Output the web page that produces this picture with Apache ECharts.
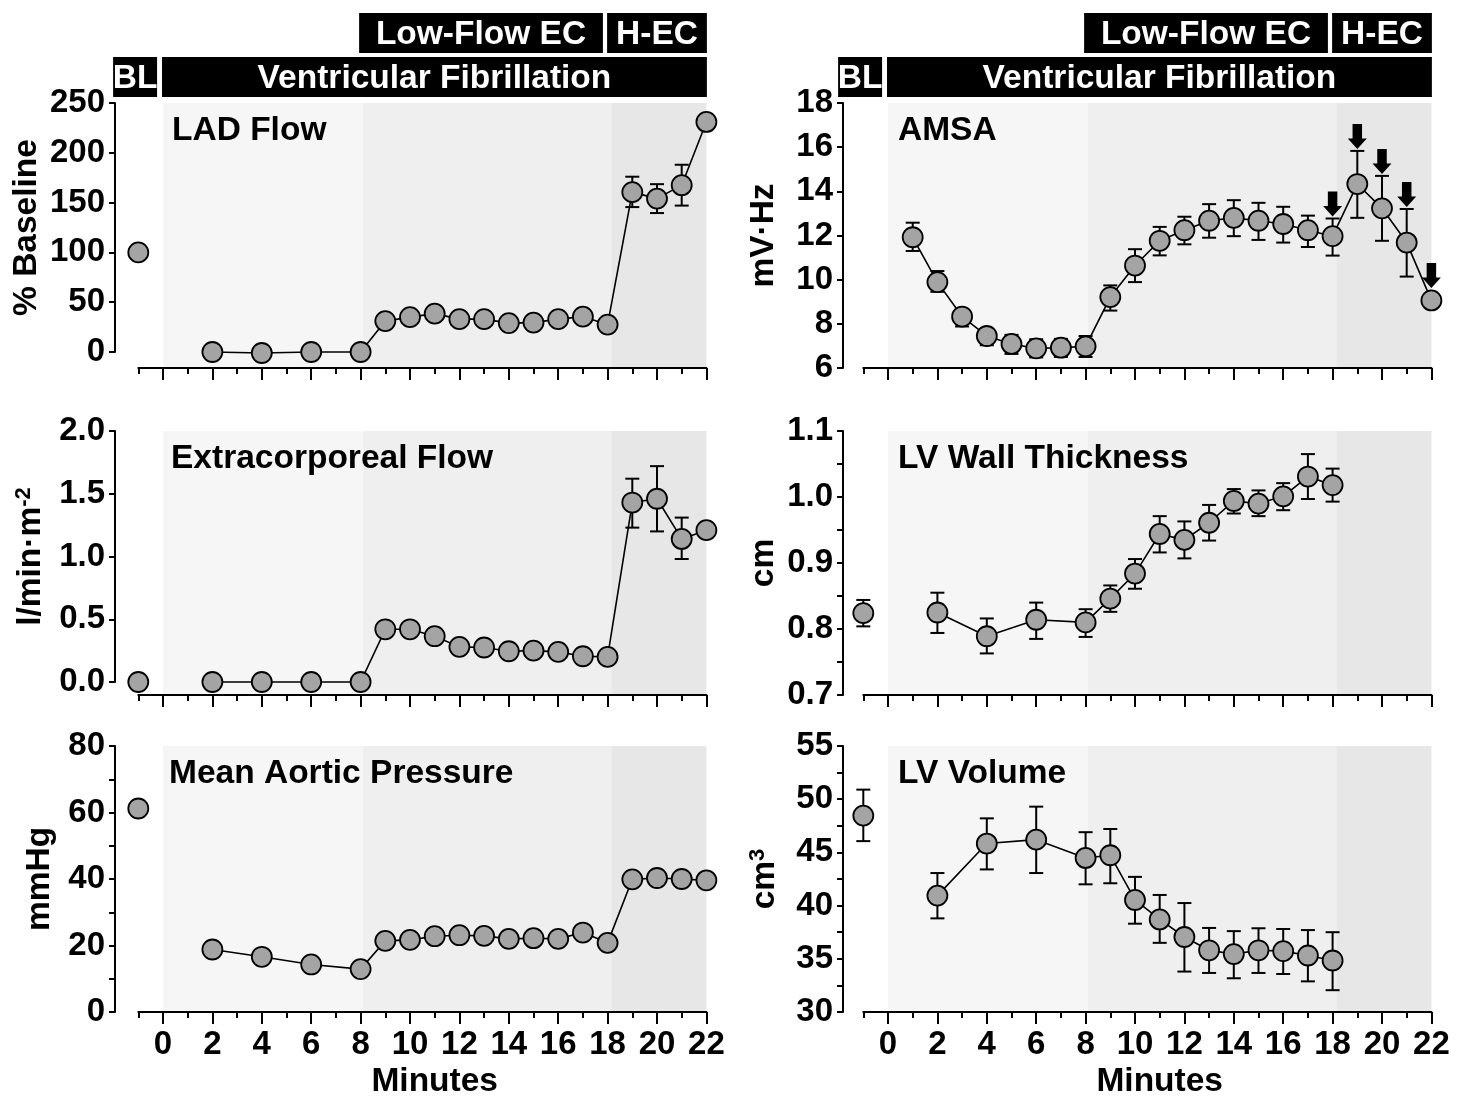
<!DOCTYPE html>
<html><head><meta charset="utf-8">
<script src="https://cdn.jsdelivr.net/npm/echarts@6/dist/echarts.min.js"></script>
<style>html,body{margin:0;padding:0;background:#fff}#c{width:1468px;height:1098px}</style>
</head><body><div id="c"></div>
<script>
// ---------------- DATA ----------------
const blMinute = -1;
const minutesMain = [2,4,6,8,9,10,11,12,13,14,15,16,17,18,19,20,21,22];
const minutesAMSA = [1,2,3,4,5,6,7,8,9,10,11,12,13,14,15,16,17,18,19,20,21,22];
const minutesLV = [2,4,6,8,9,10,11,12,13,14,15,16,17,18];

// LAD Flow (% baseline)
const ladBL = 100;
const ladFlow   = [0,-1,0,0,31,35,38.5,33,33,29,29.5,33,35.5,27.5,160.5,154,167.5,231];
const ladErrLow = [null,null,null,null,null,null,null,null,null,null,null,null,null,null,145.5,139.5,147,null];
const ladErrHigh= [null,null,null,null,null,null,null,null,null,null,null,null,null,null,176,168.5,188,null];

// AMSA (mV·Hz)
const amsa       = [11.92,9.89,8.33,7.45,7.09,6.89,6.92,6.98,9.21,10.64,11.76,12.24,12.67,12.8,12.67,12.52,12.24,11.97,14.33,13.23,11.68,9.06];
const amsaErrLow = [11.3,9.45,7.88,7.03,6.64,6.48,6.5,6.5,8.6,9.89,11.1,11.6,11.9,11.97,11.8,11.68,11.48,11.09,12.8,11.76,10.14,null];
const amsaErrHigh= [12.58,10.39,8.64,7.77,7.5,7.3,7.32,7.45,9.74,11.38,12.39,12.85,13.42,13.6,13.48,13.3,12.9,12.77,15.83,14.7,13.2,null];
const amsaArrowMinutes = [18,19,20,21,22];

// Extracorporeal flow (l/min·m-2)
const ecfBL = 0;
const ecf       = [0,0,0,0,0.42,0.42,0.365,0.28,0.275,0.245,0.25,0.24,0.205,0.2,1.43,1.46,1.14,1.21];
const ecfErrLow = [null,null,null,null,null,null,null,null,null,null,null,null,null,null,1.23,1.2,0.98,1.15];
const ecfErrHigh= [null,null,null,null,null,null,null,null,null,null,null,null,null,null,1.62,1.72,1.31,1.25];

// LV wall thickness (cm)
const lvwtBL = 0.824, lvwtBLErrLow = 0.804, lvwtBLErrHigh = 0.844;
const lvwt       = [0.825,0.789,0.814,0.810,0.846,0.884,0.944,0.935,0.961,0.994,0.990,1.001,1.031,1.018];
const lvwtErrLow = [0.794,0.763,0.785,0.788,0.826,0.861,0.916,0.907,0.934,0.975,0.971,0.980,0.997,0.993];
const lvwtErrHigh= [0.855,0.816,0.840,0.830,0.866,0.906,0.971,0.963,0.988,1.012,1.010,1.021,1.065,1.043];

// Mean aortic pressure (mmHg)
const mapBL = 61.2;
const mapVals = [18.8,16.6,14.3,12.9,21.4,21.7,22.8,23.1,22.9,22.0,22.2,22.0,23.9,20.8,39.9,40.3,40.0,39.6];

// LV volume (cm3)
const lvvBL = 48.46, lvvBLErrLow = 46.06, lvvBLErrHigh = 50.9;
const lvv       = [40.94,45.83,46.2,44.48,44.73,40.53,38.7,37.05,35.8,35.44,35.8,35.72,35.31,34.84];
const lvvErrLow = [38.8,43.4,43.06,42.0,42.1,38.3,36.5,33.8,33.67,33.17,33.67,33.57,32.88,32.05];
const lvvErrHigh= [43.06,48.2,49.3,46.9,47.2,42.7,41.0,40.24,37.9,37.6,37.87,37.8,37.7,37.5];

// Phases
const phaseBounds = [0, 8.1, 18.15, 22];
const headerLabels = ['BL','Ventricular Fibrillation','Low-Flow EC','H-EC'];
const headerStart  = [-2.02, -0.04, 7.94, 17.98];
const headerEnd    = [-0.24, 22.02, 17.81, 22.02];
const headerRow    = [0, 0, 1, 1];

// ---------------- LAYOUT / STYLE ----------------
const FONT = '"Liberation Sans", Arial, Helvetica, sans-serif';
const FS = 33.5;
const UNIT = 24.7;
const COLS = [{x0:163, yAxisX:115}, {x0:888, yAxisX:843}];
const ROWS = [{top:103, bottom:368}, {top:431, bottom:695}, {top:746, bottom:1012}];
const shadeColors = ['#f6f6f6','#efefef','#e7e7e7'];
const BLK = '#000';
const lineSt = {color:BLK, width:2};
const txt = {fontSize:FS, fontWeight:'bold', color:BLK, fontFamily:FONT};
const tickTxt = {fontSize:33, fontWeight:'bold', color:BLK, fontFamily:FONT};

const grids=[], xAxes=[], yAxes=[], series=[], titles=[];
function addGrid(g){ grids.push(Object.assign({outerBoundsMode:'none', containLabel:false, show:false}, g)); return grids.length-1; }

function errRender(params, api){
  const x = api.value(0), lo = api.value(1), hi = api.value(2);
  const p1 = api.coord([x, lo]), p2 = api.coord([x, hi]);
  const hw = 7, st = {stroke:BLK, lineWidth:2, fill:null};
  return {type:'group', children:[
    {type:'line', shape:{x1:p1[0],y1:p1[1],x2:p2[0],y2:p2[1]}, style:st},
    {type:'line', shape:{x1:p1[0]-hw,y1:p1[1],x2:p1[0]+hw,y2:p1[1]}, style:st},
    {type:'line', shape:{x1:p2[0]-hw,y1:p2[1],x2:p2[0]+hw,y2:p2[1]}, style:st}
  ]};
}
function shadeRender(params, api){
  const a = api.coord([api.value(0), 0]), b = api.coord([api.value(1), 0]);
  const cs = params.coordSys;
  return {type:'rect', shape:{x:a[0], y:cs.y, width:b[0]-a[0], height:cs.height},
          style:{fill:shadeColors[params.dataIndex]}};
}
function headerRender(params, api){
  const x0 = api.value(0), x1 = api.value(1), row = api.value(2);
  const yb = row === 0 ? 0 : 1.048, yt = row === 0 ? 0.952 : 2;
  const p0 = api.coord([x0, yt]), p1 = api.coord([x1, yb]);
  return {type:'group', children:[
    {type:'rect', shape:{x:p0[0], y:p0[1], width:p1[0]-p0[0], height:p1[1]-p0[1]}, style:{fill:BLK}},
    {type:'text', style:{text:headerLabels[params.dataIndex], x:(p0[0]+p1[0])/2, y:(p0[1]+p1[1])/2 + 2,
      fill:'#fff', font:'bold ' + FS + 'px ' + FONT, align:'center', verticalAlign:'middle'}}
  ]};
}

function panel(p){
  const col = COLS[p.col], row = ROWS[p.row];
  const pxPerUnit = (p.axisBottomPx - row.top) / (p.yMax - p.yMin);
  const dataMin = p.yMin - (row.bottom - p.axisBottomPx) / pxPerUnit;
  // data grid
  const gi = addGrid({left: col.x0 - UNIT, top: row.top, width: 23*UNIT, height: row.bottom - row.top});
  const xi = xAxes.push({gridIndex:gi, type:'value', min:-1, max:22, interval:1, position:'bottom',
    axisLine:{show:true, onZero:false, lineStyle:lineSt}, axisTick:{show:true, length:6, lineStyle:lineSt},
    axisLabel:{show:false}, splitLine:{show:false}}) - 1;
  const yi = yAxes.push({gridIndex:gi, type:'value', min:dataMin, max:p.yMax, show:false, splitLine:{show:false}}) - 1;
  // y axis grid
  const gy = addGrid({left: col.yAxisX, top: row.top, width: 20, height: p.axisBottomPx - row.top});
  xAxes.push({gridIndex:gy, type:'value', show:false, min:0, max:1});
  yAxes.push({gridIndex:gy, type:'value', min:p.yMin, max:p.yMax, interval:p.interval, position:'left',
    axisLine:{show:true, onZero:false, lineStyle:lineSt},
    axisTick:{show:true, length:6, lineStyle:lineSt},
    minorTick:{show:!!p.minor, splitNumber:2, length:6, lineStyle:lineSt},
    axisLabel:Object.assign({margin:10, formatter:v => v.toFixed(p.decimals)}, tickTxt),
    splitLine:{show:false}, minorSplitLine:{show:false},
    name:p.name, nameLocation:'middle', nameRotate:90, nameGap:p.nameGap,
    nameTextStyle:Object.assign({rich:{
      a:{fontSize:FS, fontWeight:'bold', fontFamily:FONT, color:BLK, lineHeight:36},
      s:{fontSize:22, fontWeight:'bold', fontFamily:FONT, color:BLK, lineHeight:19, verticalAlign:'top'}}}, txt)});
  // long ticks + labels grid
  const gt = addGrid({left: col.x0, top: row.top, width: 22*UNIT, height: row.bottom - row.top});
  xAxes.push({gridIndex:gt, type:'value', min:0, max:22, interval:2, position:'bottom',
    axisLine:{show:false}, axisTick:{show:true, length:12, lineStyle:lineSt},
    axisLabel:Object.assign({show:p.row === 2, margin:16}, tickTxt), splitLine:{show:false},
    name:p.row === 2 ? 'Minutes' : '', nameLocation:'middle', nameGap:53, nameTextStyle:txt});
  yAxes.push({gridIndex:gt, type:'value', show:false, min:0, max:1});

  const base = {xAxisIndex:xi, yAxisIndex:yi, silent:true, animation:false};
  series.push(Object.assign({type:'custom', renderItem:shadeRender, z:0, clip:false,
    data: shadeColors.map((c,i) => [phaseBounds[i], phaseBounds[i+1]]), encode:{x:[0,1]}}, base));
  const errData = [];
  if (p.blErr) errData.push([blMinute, p.blErr[0], p.blErr[1]]);
  p.minutes.forEach((m,i) => { if (p.lo && p.lo[i] != null) errData.push([m, p.lo[i], p.hi[i]]); });
  if (errData.length) series.push(Object.assign({type:'custom', renderItem:errRender, z:2, clip:false,
    data:errData, encode:{x:0, y:[1,2]}}, base));
  const sym = {symbol:'circle', symbolSize:20, itemStyle:{color:'#a4a4a4', borderColor:BLK, borderWidth:1.8, opacity:1}};
  series.push(Object.assign({type:'line', z:3, clip:false, showAllSymbol:true,
    lineStyle:{color:BLK, width:1.6}, data:p.minutes.map((m,i) => [m, p.vals[i]])}, sym, base));
  if (p.bl != null) series.push(Object.assign({type:'scatter', z:3, clip:false,
    data:[[blMinute, p.bl]]}, sym, base));
  if (p.arrows){
    series.push(Object.assign({type:'scatter', z:4, clip:false,
      symbol:'path://M4.5,0L13.5,0L13.5,14L18,14L9,24L0,14L4.5,14Z', symbolSize:[19,25], symbolKeepAspect:false,
      itemStyle:{color:BLK, opacity:1},
      data:p.arrows.map(m => { const i = p.minutes.indexOf(m); const hasErr = p.hi[i] != null;
        return {value:[m, hasErr ? p.hi[i] : p.vals[i]], symbolOffset:[0, hasErr ? -14.5 : -25]}; })}, base));
  }
  titles.push({text:p.title, left:col.x0 + p.titleDx, top:p.titleTop, padding:0, textStyle:txt});
}

panel({col:0,row:0, title:'LAD Flow', titleDx:9, titleTop:114, yMin:0, yMax:250, axisBottomPx:352, interval:50,
  decimals:0, name:'% Baseline', nameGap:71, minutes:minutesMain, vals:ladFlow, lo:ladErrLow, hi:ladErrHigh, bl:ladBL});
panel({col:1,row:0, title:'AMSA', titleDx:10, titleTop:114, yMin:6, yMax:18, axisBottomPx:368, interval:2,
  decimals:0, name:'mV·Hz', nameGap:62, minutes:minutesAMSA, vals:amsa, lo:amsaErrLow, hi:amsaErrHigh, arrows:amsaArrowMinutes});
panel({col:0,row:1, title:'Extracorporeal Flow', titleDx:8, titleTop:442, yMin:0, yMax:2, axisBottomPx:682, interval:0.5,
  decimals:1, name:'{a|l/min·m}{s|-2}', nameGap:66, minutes:minutesMain, vals:ecf, lo:ecfErrLow, hi:ecfErrHigh, bl:ecfBL});
panel({col:1,row:1, title:'LV Wall Thickness', titleDx:10, titleTop:442, yMin:0.7, yMax:1.1, axisBottomPx:695, interval:0.1,
  minor:true, decimals:1, name:'cm', nameGap:62, minutes:minutesLV, vals:lvwt, lo:lvwtErrLow, hi:lvwtErrHigh,
  bl:lvwtBL, blErr:[lvwtBLErrLow, lvwtBLErrHigh]});
panel({col:0,row:2, title:'Mean Aortic Pressure', titleDx:6, titleTop:757, yMin:0, yMax:80, axisBottomPx:1012, interval:20,
  minor:true, decimals:0, name:'mmHg', nameGap:58, minutes:minutesMain, vals:mapVals, bl:mapBL});
panel({col:1,row:2, title:'LV Volume', titleDx:10, titleTop:757, yMin:30, yMax:55, axisBottomPx:1012, interval:5,
  minor:true, decimals:0, name:'{a|cm}{s|3}', nameGap:60, minutes:minutesLV, vals:lvv, lo:lvvErrLow, hi:lvvErrHigh,
  bl:lvvBL, blErr:[lvvBLErrLow, lvvBLErrHigh]});

// header bars
COLS.forEach(col => {
  const gh = addGrid({left: col.x0 - 2.05*UNIT, top:13, width: 24.1*UNIT, height:84});
  const xh = xAxes.push({gridIndex:gh, type:'value', show:false, min:-2.05, max:22.05}) - 1;
  const yh = yAxes.push({gridIndex:gh, type:'value', show:false, min:0, max:2}) - 1;
  series.push({type:'custom', xAxisIndex:xh, yAxisIndex:yh, silent:true, animation:false, clip:false,
    renderItem:headerRender, encode:{x:[0,1]},
    data: headerLabels.map((l,i) => [headerStart[i], headerEnd[i], headerRow[i]])});
});

const chart = echarts.init(document.getElementById('c'), null, {renderer:'canvas'});
chart.setOption({backgroundColor:'#fff', animation:false, title:titles, grid:grids, xAxis:xAxes, yAxis:yAxes, series:series,
  tooltip:{show:false}, legend:{show:false}});
</script></body></html>
